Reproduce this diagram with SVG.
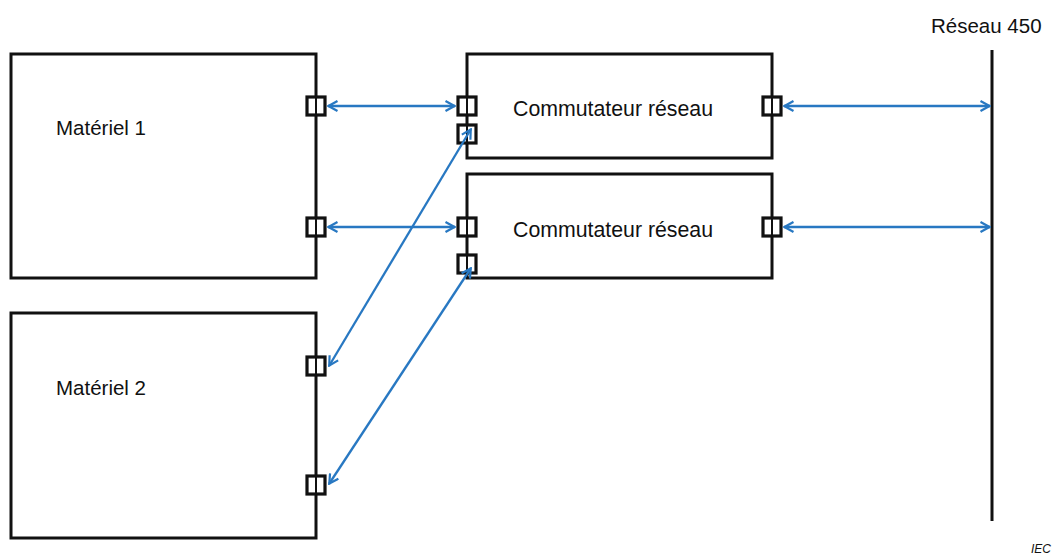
<svg xmlns="http://www.w3.org/2000/svg" width="1059" height="556" viewBox="0 0 1059 556">
<defs>
<marker id="ah" viewBox="0 0 12 12" refX="11" refY="6" markerWidth="12" markerHeight="12" markerUnits="userSpaceOnUse" orient="auto-start-reverse">
<path d="M1.5,1 L10.5,6 L1.5,11" fill="none" stroke="#2878c2" stroke-width="2.2"/>
</marker>
</defs>
<style>
.box{fill:#fff;stroke:#111;stroke-width:3}
.port{fill:#fff;stroke:#111;stroke-width:3.2}
.lbl{font-family:"Liberation Sans",Arial,sans-serif;font-size:20.5px;fill:#111}
.sw{font-size:21.3px}
.c{stroke:#2878c2;stroke-width:2.3;fill:none;marker-start:url(#ah);marker-end:url(#ah)}
</style>
<rect width="1059" height="556" fill="#fff"/>
<g id="materiel1">
<rect class="box" x="11" y="54" width="305" height="224"/>
<text class="lbl" x="56" y="135">Matériel 1</text>
<rect class="port" x="307" y="97" width="18" height="18"/>
<rect class="port" x="307" y="218" width="18" height="18"/>
<line x1="316" y1="97" x2="316" y2="115" stroke="#111" stroke-width="2"/>
<line x1="316" y1="218" x2="316" y2="236" stroke="#111" stroke-width="2"/>
</g>
<g id="materiel2">
<rect class="box" x="11" y="313" width="305" height="225"/>
<text class="lbl" x="56" y="395">Matériel 2</text>
<rect class="port" x="307" y="357" width="18" height="18"/>
<rect class="port" x="307" y="476" width="18" height="18"/>
<line x1="316" y1="357" x2="316" y2="375" stroke="#111" stroke-width="2"/>
<line x1="316" y1="476" x2="316" y2="494" stroke="#111" stroke-width="2"/>
</g>
<g id="switch1">
<rect class="box" x="467" y="54" width="305" height="104"/>
<text class="lbl sw" x="513" y="116">Commutateur réseau</text>
<rect class="port" x="458" y="97" width="18" height="18"/>
<rect class="port" x="458" y="125" width="18" height="18"/>
<rect class="port" x="763" y="97" width="18" height="18"/>
<line x1="467" y1="97" x2="467" y2="143" stroke="#111" stroke-width="2"/>
<line x1="772" y1="97" x2="772" y2="115" stroke="#111" stroke-width="2"/>
</g>
<g id="switch2">
<rect class="box" x="467" y="174" width="305" height="104"/>
<text class="lbl sw" x="513" y="237">Commutateur réseau</text>
<rect class="port" x="458" y="218" width="18" height="18"/>
<rect class="port" x="458" y="255" width="18" height="18"/>
<rect class="port" x="763" y="218" width="18" height="18"/>
<line x1="467" y1="218" x2="467" y2="236" stroke="#111" stroke-width="2"/>
<line x1="467" y1="255" x2="467" y2="273" stroke="#111" stroke-width="2"/>
<line x1="772" y1="218" x2="772" y2="236" stroke="#111" stroke-width="2"/>
</g>
<g id="reseau450">
<line x1="992" y1="50" x2="992" y2="521" stroke="#111" stroke-width="3"/>
<text class="lbl" x="931" y="33">Réseau 450</text>
</g>
<g id="connectors">
<line class="c" x1="328" y1="106" x2="455" y2="106"/>
<line class="c" x1="328" y1="227" x2="455" y2="227"/>
<line class="c" x1="784" y1="106" x2="990" y2="106"/>
<line class="c" x1="784" y1="227" x2="990" y2="227"/>
<line class="c" x1="471" y1="129" x2="329" y2="366"/>
<line class="c" x1="471" y1="268" x2="329" y2="484"/>
</g>
<text x="1031" y="553" font-family="Liberation Sans,Arial,sans-serif" font-size="12" font-style="italic" fill="#111">IEC</text>
</svg>
